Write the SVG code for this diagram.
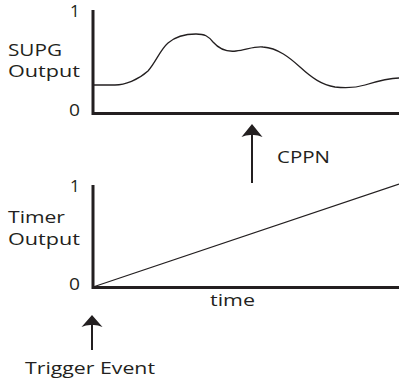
<svg xmlns="http://www.w3.org/2000/svg" width="399" height="380" viewBox="0 0 399 380">
  <style>
    .lbl { font-family: "Open Sans", "Liberation Sans", Arial, sans-serif; font-size: 17px; fill: #231f20; }
    .axis { stroke: #231f20; stroke-width: 3; fill: none; }
    .curve { stroke: #231f20; stroke-width: 1.3; fill: none; }
    .arrow { stroke: #231f20; stroke-width: 2; fill: none; }
    .head { fill: #231f20; }
  </style>
  <rect width="399" height="380" fill="#ffffff"/>

  <g id="supg-chart">
    <path class="axis" d="M93,10 V113.5 H399"/>
    <path class="curve" d="M93,85 L115,85 C125,85 138,80 148,71 C156,62 160,50 168,43 C176,36 186,34 196,34 C205,34 208,36 213,42 C220,50 228,52 236,51 C246,50 254,46 263,47 C278,48 290,58 300,67 C312,78 322,85 335,87 C345,88 355,88 365,85 C378,81 388,78 399,78"/>
    <text class="lbl" x="70" y="17">1</text>
    <text class="lbl" x="8" y="56" textLength="54" lengthAdjust="spacingAndGlyphs">SUPG</text>
    <text class="lbl" x="8" y="77" textLength="72" lengthAdjust="spacingAndGlyphs">Output</text>
    <text class="lbl" x="69" y="116" textLength="11" lengthAdjust="spacingAndGlyphs">0</text>
  </g>

  <g id="timer-chart">
    <path class="axis" d="M93,185 V287.5 H399"/>
    <path class="curve" d="M93,287 L399,184"/>
    <text class="lbl" x="70" y="192">1</text>
    <text class="lbl" x="8" y="223" textLength="57" lengthAdjust="spacingAndGlyphs">Timer</text>
    <text class="lbl" x="8" y="245" textLength="72" lengthAdjust="spacingAndGlyphs">Output</text>
    <text class="lbl" x="69" y="290" textLength="11" lengthAdjust="spacingAndGlyphs">0</text>
    <text class="lbl" x="210" y="306" textLength="45" lengthAdjust="spacingAndGlyphs">time</text>
  </g>

  <g id="connectors">
    <g id="cppn-arrow">
      <path d="M252,183 V126" class="arrow"/>
      <path class="head" d="M252,124 L262.5,137 Q257,134.5 252,135 Q247,134.5 241.5,137 Z"/>
      <text class="lbl" x="277" y="163" textLength="53" lengthAdjust="spacingAndGlyphs">CPPN</text>
    </g>
    <g id="trigger-arrow">
      <path d="M92,350 V317" class="arrow"/>
      <path class="head" d="M92,315 L102.5,327 Q97,324.5 92,325 Q87,324.5 81.5,327 Z"/>
      <text class="lbl" x="25" y="374" textLength="130" lengthAdjust="spacingAndGlyphs">Trigger Event</text>
    </g>
  </g>
</svg>
